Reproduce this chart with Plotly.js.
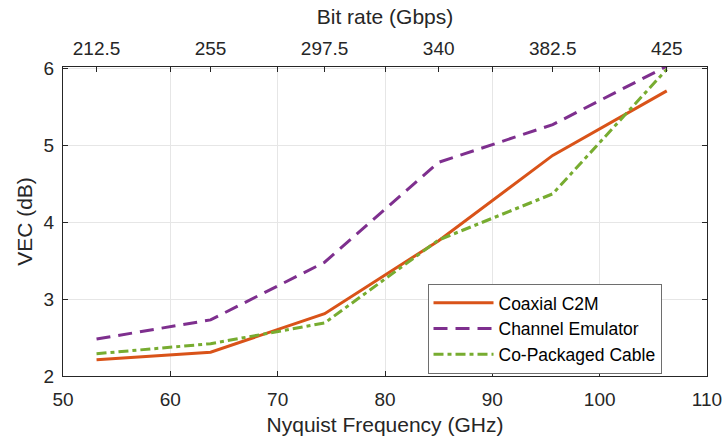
<!DOCTYPE html>
<html>
<head>
<meta charset="utf-8">
<script src="https://cdn.plot.ly/plotly-3.0.1.min.js"></script>
<style>html,body{margin:0;padding:0;background:#fff;}#chart{width:722px;height:441px;}</style>
</head>
<body>
<div id="chart"></div>
<script>
// Data
const nyquistGHz = [53.125, 63.75, 74.375, 85, 95.625, 106.25];
const coaxialC2M = [2.21, 2.31, 2.81, 3.76, 4.87, 5.71];
const channelEmulator = [2.48, 2.73, 3.48, 4.78, 5.27, 6.03];
const coPackagedCable = [2.29, 2.42, 2.69, 3.77, 4.37, 5.99];
const bitRateTicks = [212.5, 255, 297.5, 340, 382.5, 425];
const bitRateLabels = ["212.5", "255", "297.5", "340", "382.5", "425"];
const seriesNames = ["Coaxial C2M", "Channel Emulator", "Co-Packaged Cable"];

const font = "Liberation Sans, Arial, Helvetica, sans-serif";
const tc = "#262626";
const traces = [
  {x: nyquistGHz, y: coaxialC2M, name: seriesNames[0], mode: "lines",
   line: {color: "#D95319", width: 3}},
  {x: nyquistGHz, y: channelEmulator, name: seriesNames[1], mode: "lines",
   line: {color: "#7E2F8E", width: 3, dash: "14px,8px"}},
  {x: nyquistGHz, y: coPackagedCable, name: seriesNames[2], mode: "lines",
   line: {color: "#77AC30", width: 3, dash: "10px,4px,4px,4px"}},
  // invisible trace to activate top axis
  {x: bitRateTicks.map(b => b / 4), y: coaxialC2M, xaxis: "x2", mode: "lines",
   line: {width: 0}, opacity: 0, showlegend: false, hoverinfo: "skip"}
];

const layout = {
  width: 722, height: 441,
  margin: {l: 62.5, r: 15.3, t: 67.3, b: 65.3},
  paper_bgcolor: "#fff", plot_bgcolor: "#fff",
  font: {family: font, size: 19, color: tc},
  showlegend: true,
  xaxis: {
    range: [50, 110], tickvals: [50, 60, 70, 80, 90, 100, 110],
    ticks: "inside", ticklen: 5, tickcolor: tc, tickwidth: 1,
    showline: true, linecolor: tc, linewidth: 1, mirror: "ticks",
    showgrid: true, gridcolor: "#e6e6e6", gridwidth: 1, zeroline: false,
    tickfont: {size: 19, color: tc}, ticklabelstandoff: 6, ticklabeloverflow: "allow",
    title: {text: "Nyquist Frequency (GHz)", font: {size: 21, color: tc}, standoff: 8}
  },
  xaxis2: {
    overlaying: "x", side: "top", range: [50, 110],
    tickvals: bitRateTicks.map(b => b / 4), ticktext: bitRateLabels,
    ticks: "inside", ticklen: 5, tickcolor: tc,
    showgrid: false, zeroline: false, showline: false,
    tickfont: {size: 19, color: tc}, ticklabelstandoff: 7, ticklabeloverflow: "allow",
    title: {text: "Bit rate (Gbps)", font: {size: 21, color: tc}, standoff: 7}
  },
  yaxis: {
    range: [2, 6.02], tickvals: [2, 3, 4, 5, 6],
    ticks: "inside", ticklen: 5, tickcolor: tc,
    showline: true, linecolor: tc, linewidth: 1, mirror: "ticks",
    showgrid: true, gridcolor: "#e6e6e6", zeroline: false,
    tickfont: {size: 19, color: tc}, ticklabelstandoff: 4,
    title: {text: "VEC (dB)", font: {size: 21, color: tc}, standoff: 5}
  },
  legend: {
    x: 0.566, y: 0.298, xanchor: "left", yanchor: "top",
    bgcolor: "#fff", bordercolor: "#6e6e6e", borderwidth: 1,
    font: {size: 17.5, color: "#000"}, tracegroupgap: 0, itemwidth: 60
  }
};

Plotly.newPlot("chart", traces, layout, {displayModeBar: false, staticPlot: true});
</script>
</body>
</html>
